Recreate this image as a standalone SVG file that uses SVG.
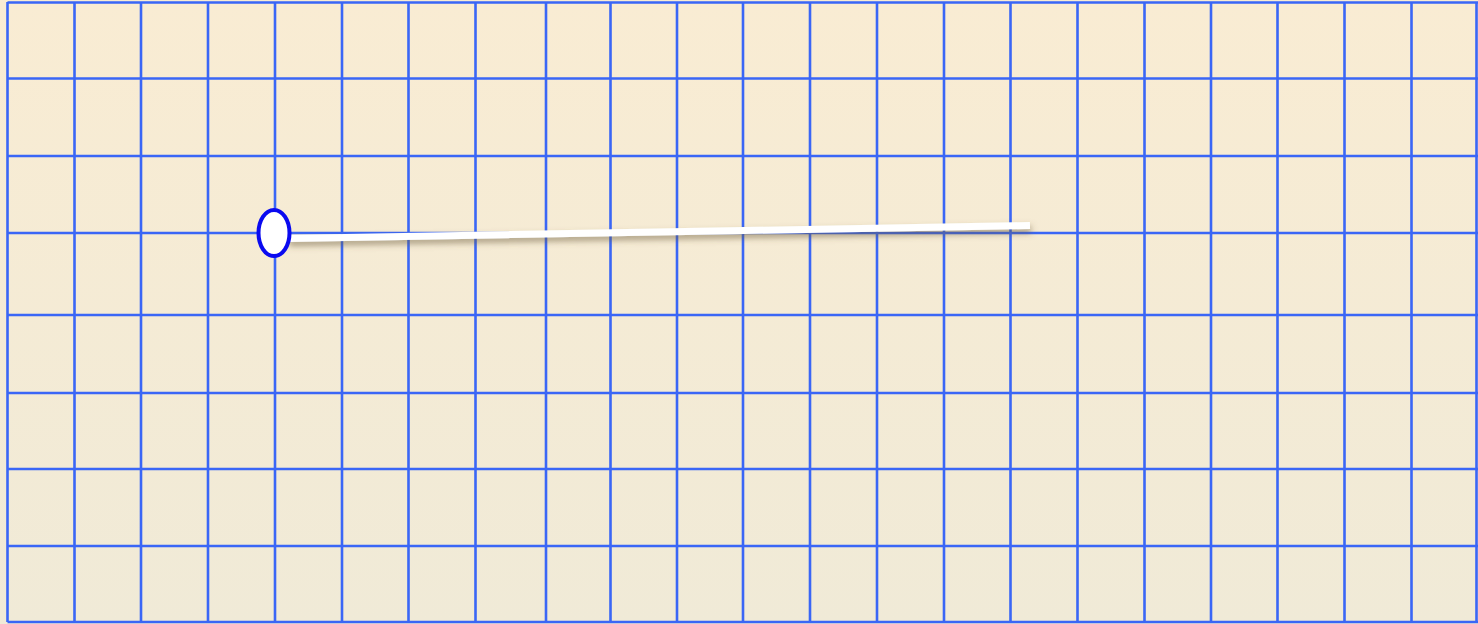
<svg xmlns="http://www.w3.org/2000/svg" width="1478" height="624" viewBox="0 0 1478 624">
<defs>
<linearGradient id="bg" x1="0" y1="0" x2="0" y2="1">
<stop offset="0" stop-color="#F9ECD3"/>
<stop offset="1" stop-color="#F0EAD7"/>
</linearGradient>
<filter id="sh" x="-5%" y="-200%" width="110%" height="500%">
<feDropShadow dx="1" dy="4" stdDeviation="3" flood-color="#6b5a3a" flood-opacity="0.55"/>
</filter>
<style>
.g{stroke:#3A66F6;stroke-width:2.6;fill:none}
</style>
</defs>
<rect width="1478" height="624" fill="url(#bg)"/>
<g id="grid" class="g">
<path d="M7.5 2V622M74.5 2V622M141 2V622M208 2V622M275 2V622M342 2V622M408.5 2V622M475.5 2V622M546 2V622M610.5 2V622M677 2V622M743 2V622M810 2V622M877 2V622M944 2V622M1010.5 2V622M1077.5 2V622M1144.5 2V622M1211 2V622M1277.5 2V622M1344.5 2V622M1411.5 2V622M1476.5 2V622"/>
<path d="M7.5 2.5H1478M7.5 78.5H1478M7.5 156H1478M7.5 233H1478M7.5 315H1478M7.5 393H1478M7.5 469H1478M7.5 546H1478M7.5 622H1478"/>
</g>
<g id="connectors">
<line x1="288" y1="238.5" x2="1030" y2="225.5" stroke="#FFFFFF" stroke-width="7" filter="url(#sh)"/>
</g>
<g id="node-pivot">
<ellipse cx="274" cy="233" rx="15.5" ry="23" fill="#FFFFFF" stroke="#0A0AF0" stroke-width="4"/>
</g>
</svg>
